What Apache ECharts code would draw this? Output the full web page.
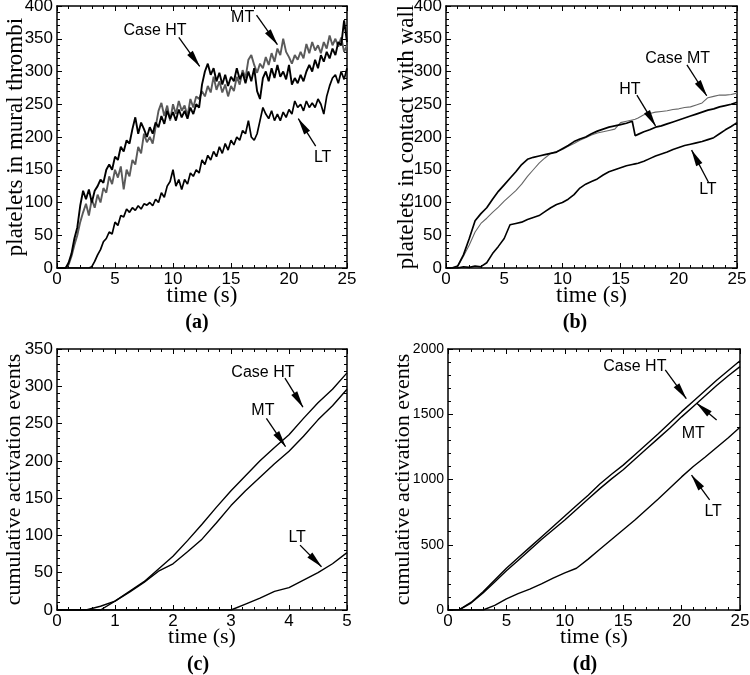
<!DOCTYPE html>
<html>
<head>
<meta charset="utf-8">
<script src="https://cdn.jsdelivr.net/npm/echarts@6/dist/echarts.min.js"></script>
<style>
  html, body { margin: 0; padding: 0; background: #fff; }
  #chart { width: 750px; height: 675px; }
</style>
</head>
<body>
<div id="chart"></div>
<script>
// ==== (a) platelets in mural thrombi, one value every 0.25 s ====
const stepA = 0.25;
const muralHT = [
  0, 0, 0, 0,
  8, 22, 45, 62,
  95, 118, 105, 120,
  100, 118, 125, 135,
  130, 150, 158, 150,
  170, 165, 185, 178,
  195, 190, 212, 230,
  205, 222, 212, 200,
  215, 205, 222, 215,
  232, 220, 240, 228,
  238, 225, 242, 230,
  240, 228, 245, 235,
  250, 245, 280, 300,
  312, 295, 305, 285,
  298, 280, 295, 278,
  292, 285, 305, 288,
  298, 282, 300, 285,
  305, 270, 258, 290,
  300, 285, 305, 290,
  310, 292, 300, 288,
  310, 280, 290, 282,
  295, 285, 300, 310,
  300, 318, 305, 325,
  315, 330, 320, 335,
  325, 345, 340, 378,
  345
];
const muralMT = [
  0, 0, 0, 0,
  5, 18, 35, 50,
  70, 85, 98, 80,
  105, 92, 112, 100,
  122, 115, 140, 128,
  150, 138, 155, 120,
  150, 140, 165, 158,
  185, 175, 205, 192,
  200, 190, 215, 240,
  252, 232, 248, 225,
  250, 235, 255, 240,
  248, 232, 258, 245,
  262, 258, 270, 262,
  278, 268, 292, 272,
  285, 268, 280, 262,
  278, 270, 292, 280,
  302, 290, 318, 325,
  310, 298, 312, 305,
  322, 310, 328, 315,
  335, 325, 350, 330,
  322, 312, 325, 318,
  330, 320, 342, 328,
  345, 332, 340, 328,
  345, 335, 355, 340,
  350, 338, 352, 330,
  340
];
const muralLT = [
  0, 0, 0, 0,
  0, 0, 0, 0,
  0, 0, 0, 0,
  2, 10, 20, 28,
  40, 45, 55, 52,
  70, 65, 80, 78,
  90, 85, 92, 88,
  95, 90, 98, 96,
  100, 95, 105, 100,
  115, 108, 125, 132,
  150, 125, 135, 120,
  135, 128, 145, 140,
  150, 145, 165, 158,
  172, 165, 178, 170,
  185, 175, 190, 180,
  195, 188, 200, 195,
  210, 205, 225, 200,
  195, 205, 225, 245,
  235, 228, 240, 225,
  235, 225, 238, 230,
  242, 235, 255, 245,
  250, 240, 255, 245,
  252, 245, 258, 250,
  235, 262, 278, 290,
  295, 282, 300, 288,
  305
];

// ==== (b) platelets in contact with wall ====
const timeB = [0, 0.5, 1, 1.5, 2, 2.5, 3, 3.5, 4, 4.5, 5, 5.5, 6, 6.5, 7, 7.5, 8, 8.5, 9, 9.5,
  10, 10.5, 11, 11.5, 12, 12.5, 13, 13.5, 14, 14.5, 15, 15.5, 16, 16.25, 16.5, 17, 17.5, 18, 18.5,
  19, 19.5, 20, 20.5, 21, 21.5, 22, 22.5, 23, 23.5, 24, 24.5, 25];
const wallHT = [0, 0, 3, 20, 45, 72, 83, 92, 105, 117, 127, 137, 147, 158, 166, 169, 171, 173, 175, 177,
  182, 187, 193, 197, 200, 205, 209, 212, 215, 217, 219, 221, 224, 202, 204, 208, 211, 215, 217,
  220, 223, 226, 229, 232, 235, 238, 241, 243, 246, 248, 250, 253];
const wallMT = [0, 0, 2, 18, 35, 55, 68, 76, 85, 93, 102, 110, 118, 128, 140, 150, 160, 168, 175, 178,
  181, 186, 190, 195, 199, 203, 206, 208, 210, 212, 222, 224, 226, 227, 229, 234, 236, 238, 239,
  240, 242, 243, 245, 246, 249, 252, 260, 262, 264, 264, 265, 267];
const wallLT = [0, 0, 0, 2, 1, 3, 2, 8, 22, 33, 45, 66, 68, 70, 74, 77, 80, 86, 92, 97,
  100, 105, 112, 122, 128, 132, 136, 142, 147, 150, 153, 156, 158, 159, 160, 163, 167, 171, 174,
  177, 181, 184, 187, 189, 191, 193, 196, 199, 205, 211, 216, 222];

// ==== (c) cumulative activation events, first 5 s ====
const timeC = [0, 0.5, 0.75, 1, 1.25, 1.5, 1.75, 2, 2.25, 2.5, 2.75, 3, 3.25, 3.5, 3.75, 4, 4.25, 4.5, 4.75, 5];
const earlyHT = [0, 0, 5, 12, 25, 38, 55, 72, 93, 115, 138, 160, 180, 200, 218, 235, 257, 278, 296, 318];
const earlyMT = [0, 0, 0, 12, 24, 37, 52, 62, 78, 95, 117, 140, 160, 178, 196, 213, 233, 255, 274, 296];
const earlyLT = [0, 0, 0, 0, 0, 0, 0, 0, 0, 0, 0, 0, 8, 16, 25, 30, 40, 50, 62, 77];

// ==== (d) cumulative activation events, 25 s ====
const timeD = [0, 1, 2, 3, 4, 5, 6, 7, 8, 9, 10, 11, 12, 13, 14, 15, 16, 17, 18, 19, 20, 21, 22, 23, 24, 25];
const totalHT = [0, 5, 60, 140, 230, 320, 400, 480, 560, 640, 720, 800, 880, 965, 1040, 1110, 1190, 1270,
  1350, 1435, 1520, 1600, 1680, 1760, 1835, 1910];
const totalMT = [0, 3, 55, 130, 215, 300, 380, 460, 540, 615, 690, 770, 850, 930, 1005, 1075, 1155, 1235,
  1315, 1395, 1480, 1560, 1640, 1720, 1795, 1865];
const totalLT = [0, 0, 0, 0, 35, 85, 125, 160, 200, 245, 285, 320, 390, 465, 540, 615, 690, 770,
  850, 935, 1020, 1100, 1170, 1245, 1320, 1400];

// callouts: [text, text t, text y, arrow from t, from y, arrow to t, to y]
const notesA = [["Case HT", 8.45, 363, 10.5, 352, 12.3, 308], ["MT", 16.0, 382, 17.2, 386, 19.0, 341],
  ["LT", 22.9, 169, 22.3, 186, 20.8, 228]];
const notesB = [["Case MT", 19.9, 319, 20.7, 310, 22.4, 263], ["HT", 15.8, 273, 16.4, 264, 18.0, 217],
  ["LT", 22.5, 119, 22.55, 131, 21.1, 180]];
const notesC = [["Case HT", 3.55, 319, 3.93, 311, 4.24, 272], ["MT", 3.55, 267, 3.61, 257, 3.94, 219],
  ["LT", 4.14, 97, 4.19, 87, 4.56, 58]];
const notesD = [["Case HT", 16.0, 1862, 18.6, 1840, 20.4, 1620], ["MT", 21.0, 1349, 23.0, 1456, 21.3, 1584],
  ["LT", 22.7, 751, 22.4, 843, 20.85, 1034]];

const serif = '"Liberation Serif", "Times New Roman", serif';
const sans = '"Liberation Sans", Arial, sans-serif';

function byStep(vals, step) {
  return vals.map(function (v, i) { return [i * step, v]; });
}
function zip(ts, vals) {
  return ts.map(function (t, i) { return [t, vals[i]]; });
}

const grids = [
  { left: 57, top: 6, width: 290, height: 262 },
  { left: 446, top: 6, width: 291, height: 262 },
  { left: 57, top: 349, width: 290, height: 261 },
  { left: 448, top: 349, width: 292, height: 261 }
];

function frameAxis(g, min, max, interval, pos, extra) {
  return Object.assign({
    type: "value",
    gridIndex: g,
    position: pos,
    min: min,
    max: max,
    interval: interval,
    axisLine: { show: true, onZero: false, lineStyle: { color: "#000", width: 1.5 } },
    axisTick: { show: true, inside: true, length: 5, lineStyle: { color: "#000", width: 1, opacity: 1 } },
    minorTick: { show: true, splitNumber: 5, length: 3, lineStyle: { color: "#000", width: 1, opacity: 1 } },
    splitLine: { show: false },
    minorSplitLine: { show: false },
    axisLabel: { show: false }
  }, extra || {});
}

function xAxes(g, max, interval) {
  return [
    frameAxis(g, 0, max, interval, "bottom", {
      name: "time (s)",
      nameLocation: "middle",
      nameGap: 16,
      nameMoveOverlap: false,
      nameTextStyle: { fontFamily: serif, fontSize: g < 2 ? 23 : 22, color: "#000" },
      axisLabel: { show: true, margin: 3, fontFamily: sans, fontSize: 17, color: "#000",
        formatter: function (v) { return String(v); } }
    }),
    frameAxis(g, 0, max, interval, "top")
  ];
}

function yAxes(g, max, interval, title, gap, labelSize) {
  return [
    frameAxis(g, 0, max, interval, "left", {
      name: title,
      nameLocation: "middle",
      nameGap: gap,
      nameMoveOverlap: false,
      nameTextStyle: { fontFamily: serif, fontSize: g < 2 ? 23 : 22, color: "#000" },
      axisLabel: { show: true, margin: 4, fontFamily: sans, fontSize: labelSize, color: "#000",
        formatter: function (v) { return String(v); } }
    }),
    frameAxis(g, 0, max, interval, "right")
  ];
}

function curve(name, g, pts, color, width, notes) {
  const s = {
    name: name,
    type: "line",
    xAxisIndex: g * 2,
    yAxisIndex: g * 2,
    data: pts,
    symbol: "none",
    showSymbol: false,
    animation: false,
    lineStyle: { color: color, width: width },
    emphasis: { disabled: true }
  };
  if (notes) {
    s.markPoint = {
      silent: true,
      animation: false,
      symbol: "circle",
      symbolSize: 1,
      itemStyle: { color: "rgba(0,0,0,0)" },
      label: { show: true, position: "inside", formatter: "{b}", fontFamily: sans, fontSize: 16, color: "#000" },
      data: notes.map(function (n) { return { name: n[0], coord: [n[1], n[2]] }; })
    };
    s.markLine = {
      silent: true,
      animation: false,
      label: { show: false },
      lineStyle: { color: "#000", width: 1.3, type: "solid" },
      symbol: ["none", "triangle"],
      data: notes.map(function (n) {
        return [
          { coord: [n[3], n[4]], symbol: "none" },
          { coord: [n[5], n[6]], symbol: "triangle", symbolSize: [7, 17], symbolOffset: [0, 8], itemStyle: { color: "#000" } }
        ];
      })
    };
  }
  return s;
}

const chart = echarts.init(document.getElementById("chart"));
chart.setOption({
  backgroundColor: "#fff",
  animation: false,
  grid: grids.map(function (g) { return Object.assign({ outerBoundsMode: "none", containLabel: false }, g); }),
  xAxis: [].concat(xAxes(0, 25, 5), xAxes(1, 25, 5), xAxes(2, 5, 1), xAxes(3, 25, 5)),
  yAxis: [].concat(
    yAxes(0, 400, 50, "platelets in mural thrombi", 29.5, 17),
    yAxes(1, 400, 50, "platelets in contact with wall", 27.5, 17),
    yAxes(2, 350, 50, "cumulative activation events", 31.5, 17),
    yAxes(3, 2000, 500, "cumulative activation events", 33.5, 14)
  ),
  graphic: [
    { type: "text", x: 197, y: 323, style: { text: "(a)", font: "bold 20px " + serif, textAlign: "center", textVerticalAlign: "middle", fill: "#000" } },
    { type: "text", x: 575, y: 323, style: { text: "(b)", font: "bold 20px " + serif, textAlign: "center", textVerticalAlign: "middle", fill: "#000" } },
    { type: "text", x: 198, y: 665, style: { text: "(c)", font: "bold 20px " + serif, textAlign: "center", textVerticalAlign: "middle", fill: "#000" } },
    { type: "text", x: 585, y: 665, style: { text: "(d)", font: "bold 20px " + serif, textAlign: "center", textVerticalAlign: "middle", fill: "#000" } }
  ],
  series: [
    curve("MT", 0, byStep(muralMT, stepA), "#5a5a5a", 1.9),
    curve("HT", 0, byStep(muralHT, stepA), "#000", 1.9, notesA),
    curve("LT", 0, byStep(muralLT, stepA), "#000", 1.7),

    curve("MT", 1, zip(timeB, wallMT), "#666", 1.1, notesB),
    curve("HT", 1, zip(timeB, wallHT), "#000", 1.7),
    curve("LT", 1, zip(timeB, wallLT), "#000", 1.6),

    curve("HT", 2, zip(timeC, earlyHT), "#000", 1.4, notesC),
    curve("MT", 2, zip(timeC, earlyMT), "#000", 1.4),
    curve("LT", 2, zip(timeC, earlyLT), "#000", 1.4),

    curve("HT", 3, zip(timeD, totalHT), "#000", 1.4, notesD),
    curve("MT", 3, zip(timeD, totalMT), "#000", 1.4),
    curve("LT", 3, zip(timeD, totalLT), "#000", 1.4)
  ]
});
</script>
</body>
</html>
